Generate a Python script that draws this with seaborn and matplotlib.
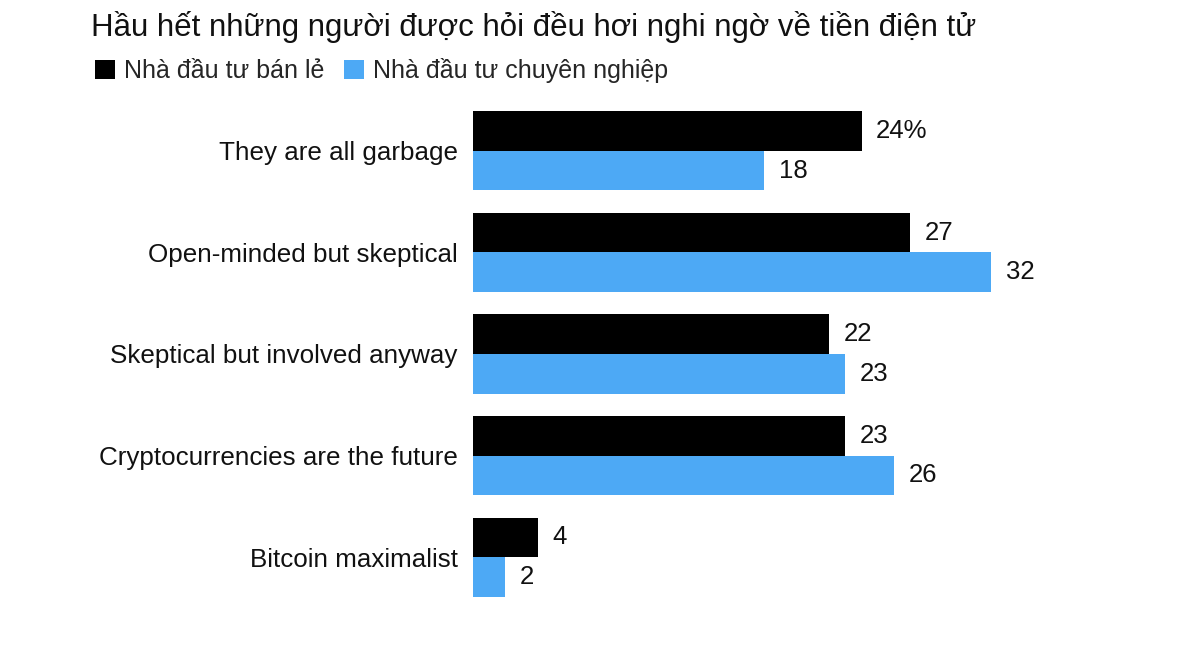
import pandas as pd
import matplotlib
matplotlib.use("Agg")
import matplotlib.pyplot as plt
import seaborn as sns

# -----------------------------
# DATA
# -----------------------------

categories = [
    "They are all garbage",
    "Open-minded but skeptical",
    "Skeptical but involved anyway",
    "Cryptocurrencies are the future",
    "Bitcoin maximalist",
]

retail = [24, 27, 22, 23, 4]
professional = [18, 32, 23, 26, 2]

series_names = ["Nhà đầu tư bán lẻ", "Nhà đầu tư chuyên nghiệp"]
colors = ["#000000", "#4DA9F5"]

title = "Hầu hết những người được hỏi đều hơi nghi ngờ về tiền điện tử"

df = pd.DataFrame({
    "category": categories * 2,
    "value": retail + professional,
    "group": [series_names[0]] * len(categories) + [series_names[1]] * len(categories),
})

# -----------------------------
# PLOT
# -----------------------------

sns.set_style("white")
plt.rcParams['font.family'] = ['Liberation Sans', 'DejaVu Sans']

fig = plt.figure(figsize=(12, 6.57), dpi=100)
ax = fig.add_axes([0.394, 0.0746, 0.54, 0.7732])

sns.barplot(
    data=df,
    y="category",
    x="value",
    hue="group",
    order=categories,
    hue_order=series_names,
    palette=colors,
    width=0.78,
    saturation=1,
    linewidth=0,
    orient="h",
    ax=ax,
)

ax.set_xlim(0, 40)
ax.set_ylim(4.5, -0.5)

# value labels
for i, container in enumerate(ax.containers):
    vals = retail if i == 0 else professional
    labels = [str(v) for v in vals]
    if i == 0:
        labels[0] = labels[0] + "%"
    ax.bar_label(container, labels=labels, padding=10.5, fontsize=18.5, color="#111111")

ax.set_xlabel("")
ax.set_ylabel("")
ax.set_xticks([])
ax.tick_params(axis="y", length=0, pad=11, labelsize=18.7, labelcolor="#111111")
for s in ax.spines.values():
    s.set_visible(False)

# legend at the top
handles, lbls = ax.get_legend_handles_labels()
ax.legend_.remove()
fig.legend(
    handles,
    lbls,
    loc="upper left",
    bbox_to_anchor=(0.079, 0.912),
    ncol=2,
    frameon=False,
    fontsize=18,
    handlelength=0.8,
    handleheight=0.8,
    handletextpad=0.35,
    columnspacing=0.8,
    borderaxespad=0,
    borderpad=0,
)

fig.text(0.076, 0.959, title, fontsize=22.5, color="#111111", ha="left", va="center")

fig.savefig("out.png", dpi=100, facecolor="white")
